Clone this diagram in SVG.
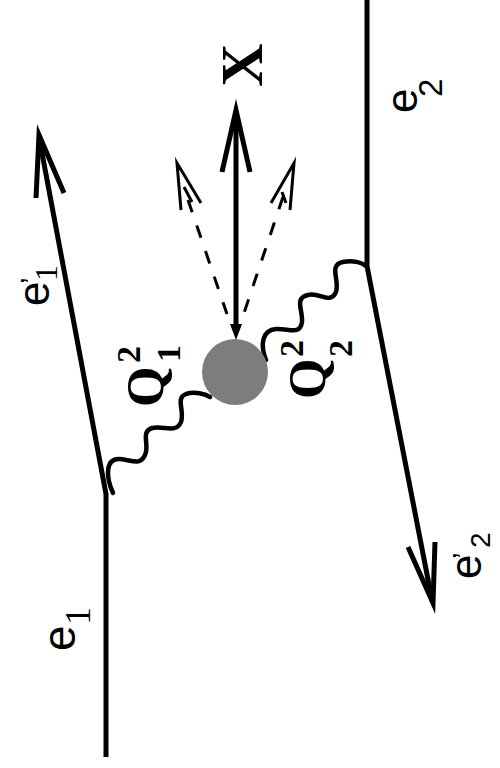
<svg xmlns="http://www.w3.org/2000/svg" width="500" height="768" viewBox="0 0 500 768">
<style>
.line{fill:none;stroke:#000;stroke-width:5;stroke-linecap:butt}
.head{fill:none;stroke:#000;stroke-width:5;stroke-linejoin:miter;stroke-miterlimit:20}
.photon{fill:none;stroke:#000;stroke-width:4.5;stroke-linecap:round}
.dash{fill:none;stroke:#000;stroke-width:3;stroke-dasharray:13 14}
.dhead{fill:none;stroke:#000;stroke-width:3;stroke-linejoin:miter;stroke-miterlimit:20}
.sans{font-family:"Liberation Sans",Arial,sans-serif;fill:#000}
.serif{font-family:"Liberation Serif","Times New Roman",serif;fill:#000}
.bold{font-weight:bold}
</style>
<rect width="500" height="768" fill="#fff"/>
<g id="connectors">
  <path class="line" d="M106,757 L106,494 L39,137"/>
  <polyline class="head" points="36,198 39,135 64,193"/>
  <path class="line" d="M367,0 L367,266 L432,600"/>
  <polyline class="head" points="408,547 433,603 435,542"/>
  <path class="photon" d="M113,493 C105,475 106,458 120,459 C132,460 140,466 145,455 C150,445 140,432 152,428 C163,425 176,434 181,422 C185,411 175,398 186,394 C195,391 205,394 210,397"/>
  <path class="photon" d="M266,360 C260,345 262,330 276,329 C288,328 300,336 302,322 C303,310 294,298 308,295 C320,292 330,305 336,292 C340,280 328,265 343,262 C352,260 362,262 367,267"/>
  <line class="line" x1="236" y1="113" x2="236" y2="328"/>
  <polyline class="head" points="222,172 236,110 250,172"/>
  <polygon points="230,324 242,324 236,340" fill="#000"/>
  <line class="dash" x1="188" y1="200" x2="227" y2="314"/>
  <polyline class="dhead" points="181,210 177,163 201,203"/>
  <line x1="184" y1="187" x2="192" y2="202" stroke="#000" stroke-width="3"/>
  <line class="dash" x1="283" y1="197" x2="244" y2="313"/>
  <polyline class="dhead" points="271,203 294,163 290,210"/>
  <line x1="282" y1="192" x2="286" y2="203" stroke="#000" stroke-width="3"/>
</g>
<g id="blob">
  <circle cx="235" cy="372" r="33" fill="#7d7d7d"/>
</g>
<g id="label-X">
  <text class="serif bold" font-size="60" text-anchor="middle" transform="translate(262,65) rotate(-90)">X</text>
</g>
<g id="label-e2">
  <text transform="translate(417,113) rotate(-90)"><tspan class="sans" x="0" y="0" font-size="44">e</tspan><tspan class="sans" x="16" y="25" font-size="33">2</tspan></text>
</g>
<g id="label-e1p">
  <text transform="translate(49,306) rotate(-90)"><tspan class="sans" x="0" y="0" font-size="44">e</tspan><tspan class="sans" x="22" y="-8" font-size="30">’</tspan><tspan class="serif" x="25" y="8" font-size="32">1</tspan></text>
</g>
<g id="label-e1">
  <text transform="translate(75,651) rotate(-90)"><tspan class="sans" x="0" y="0" font-size="46">e</tspan><tspan class="serif" x="26" y="15" font-size="36">1</tspan></text>
</g>
<g id="label-e2p">
  <text transform="translate(481,579) rotate(-90)"><tspan class="sans" x="0" y="0" font-size="44">e</tspan><tspan class="sans" x="20" y="-8" font-size="30">’</tspan><tspan class="sans" x="31" y="9" font-size="28">2</tspan></text>
</g>
<g id="label-Q1">
  <text transform="translate(163,407) rotate(-90)"><tspan class="serif bold" x="0" y="0" font-size="52">Q</tspan><tspan class="serif bold" x="44" y="-23" font-size="34">2</tspan><tspan class="serif bold" x="45" y="17" font-size="34">1</tspan></text>
</g>
<g id="label-Q2">
  <text transform="translate(325,399) rotate(-90)"><tspan class="serif bold" x="0" y="0" font-size="52">Q</tspan><tspan class="serif bold" x="42" y="-22" font-size="34">2</tspan><tspan class="serif bold" x="42" y="27" font-size="34">2</tspan></text>
</g>
</svg>
